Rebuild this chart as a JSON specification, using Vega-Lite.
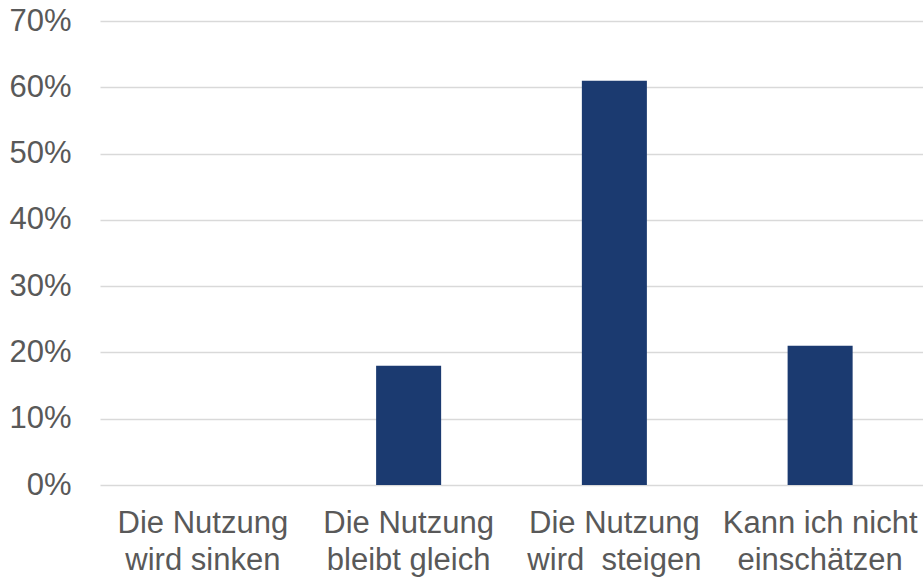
{
  "$schema": "https://vega.github.io/schema/vega-lite/v6.json",
  "autosize": {"type": "none"},
  "width": 823,
  "height": 464,
  "padding": {"left": 100, "top": 21, "right": 0, "bottom": 92},
  "background": "white",
  "config": {"view": {"stroke": null}, "font": "Liberation Sans"},
  "data": {"values": [
    {"cat": "Die Nutzung|wird sinken", "value": 0},
    {"cat": "Die Nutzung|bleibt gleich", "value": 0.18},
    {"cat": "Die Nutzung|wird\u00a0 steigen", "value": 0.61},
    {"cat": "Kann ich nicht|einschätzen", "value": 0.21}
  ]},
  "mark": {"type": "bar", "color": "#1B3A70"},
  "encoding": {
    "x": {"field": "cat", "type": "nominal", "sort": null,
      "scale": {"paddingInner": 0.684, "paddingOuter": 0.342},
      "axis": {"title": null, "labelAngle": 0, "domain": false, "ticks": false,
        "labelExpr": "split(datum.label, '|')", "labelFont": "Liberation Sans",
        "labelFontSize": 31, "labelColor": "#595959", "labelPadding": 23, "labelLineHeight": 37,
        "labelOverlap": false, "labelLimit": 300}},
    "y": {"field": "value", "type": "quantitative",
      "scale": {"domain": [0, 0.7]},
      "axis": {"title": null, "format": ".0%", "values": [0,0.1,0.2,0.3,0.4,0.5,0.6,0.7], "domain": false, "ticks": false,
        "labelOverlap": false, "labelFont": "Liberation Sans", "labelFontSize": 31, "labelColor": "#595959", "labelPadding": 29,
        "gridColor": "#D9D9D9", "gridWidth": 1.5}}
  }
}
